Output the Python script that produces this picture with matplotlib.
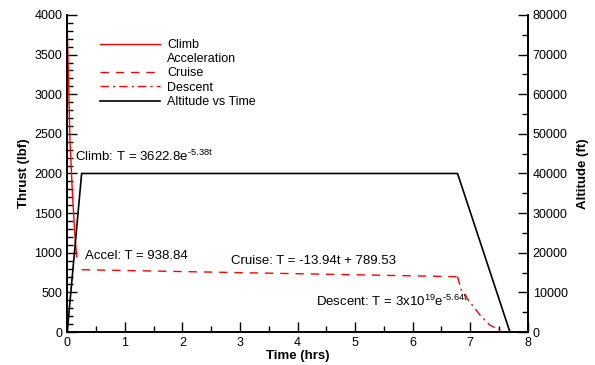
# thrust and altitude vs time

import numpy as np
import matplotlib.pyplot as plt
from matplotlib.ticker import MultipleLocator
from matplotlib.lines import Line2D

plt.rcParams['font.family'] = ['Liberation Sans', 'DejaVu Sans']
plt.rcParams['mathtext.fontset'] = 'custom'
plt.rcParams['mathtext.rm'] = 'Liberation Sans'
plt.rcParams['mathtext.it'] = 'Liberation Sans'

# thrust segments (hrs, lbf)
climb_t = [0.0, 0.02, 0.047, 0.09, 0.13, 0.163]
climb_T = [3850, 3250, 2420, 1750, 1250, 950]
cruise_t = [0.25, 6.78]
cruise_T = [786, 698]
descent_t = [6.78, 6.84, 6.99, 7.17, 7.34, 7.51, 7.60]
descent_T = [698, 540, 382, 214, 88, 25, 0]

# altitude profile (hrs, ft)
alt_t = [0.0, 0.25, 6.78, 7.69]
alt_ft = [0, 40000, 40000, 0]

fig = plt.figure(figsize=(5.95, 3.65), dpi=100)
ax = fig.add_axes([0.113, 0.0904, 0.774, 0.8686])
ax2 = ax.twinx()

ax.plot(climb_t, climb_T, color='red', lw=1.0)
ax.plot(cruise_t, cruise_T, color='red', lw=1.0, ls=(0, (6, 5)))
ax.plot(descent_t, descent_T, color='red', lw=1.0, ls=(0, (6, 3, 1.5, 3)))
ax2.plot(alt_t, alt_ft, color='black', lw=1.2)

ax.set_xlim(0, 8)
ax.set_ylim(0, 4000)
ax2.set_ylim(0, 80000)

ax.xaxis.set_major_locator(MultipleLocator(1))
ax.xaxis.set_minor_locator(MultipleLocator(0.5))
ax.yaxis.set_major_locator(MultipleLocator(500))
ax.yaxis.set_minor_locator(MultipleLocator(100))
ax2.yaxis.set_major_locator(MultipleLocator(10000))
ax2.yaxis.set_minor_locator(MultipleLocator(5000))

for a in (ax, ax2):
    a.spines['top'].set_visible(False)
    a.tick_params(which='both', direction='in', labelsize=9, width=1)
    a.tick_params(which='major', length=7)
    a.tick_params(which='minor', length=4)
    for s in a.spines.values():
        s.set_linewidth(1.2)

ax.set_xlabel('Time (hrs)', fontsize=9.5, fontweight='bold', labelpad=1)
ax.set_ylabel('Thrust (lbf)', fontsize=9.5, fontweight='bold', labelpad=3)
ax2.set_ylabel('Altitude (ft)', fontsize=9.5, fontweight='bold', labelpad=7)

ax.text(0.14, 2210, 'Climb: T = 3622.8e$^{\\mathrm{\u2010 5.38t}}$', fontsize=9.5, va='center')
ax.text(0.3, 955, 'Accel: T = 938.84', fontsize=9.5, va='center')
ax.text(2.85, 900, 'Cruise: T = -13.94t + 789.53', fontsize=9.5, va='center')
ax.text(4.33, 385, 'Descent: T = 3x10$^{\\mathrm{19}}$e$^{\\mathrm{\u2010 5.64t}}$', fontsize=9.5, va='center')

handles = [
    Line2D([], [], color='red', lw=1.0),
    Line2D([], [], color='none'),
    Line2D([], [], color='red', lw=1.0, ls=(0, (6, 5))),
    Line2D([], [], color='red', lw=1.0, ls=(0, (6, 3, 1.5, 3))),
    Line2D([], [], color='black', lw=1.2),
]
labels = ['Climb', 'Acceleration', 'Cruise', 'Descent', 'Altitude vs Time']
ax2.legend(handles, labels, loc='upper left', bbox_to_anchor=(0.06, 0.94),
           frameon=False, fontsize=9, handlelength=4.8, handletextpad=0.6,
           labelspacing=0.18, borderaxespad=0)

fig.savefig('out.png', dpi=100)
